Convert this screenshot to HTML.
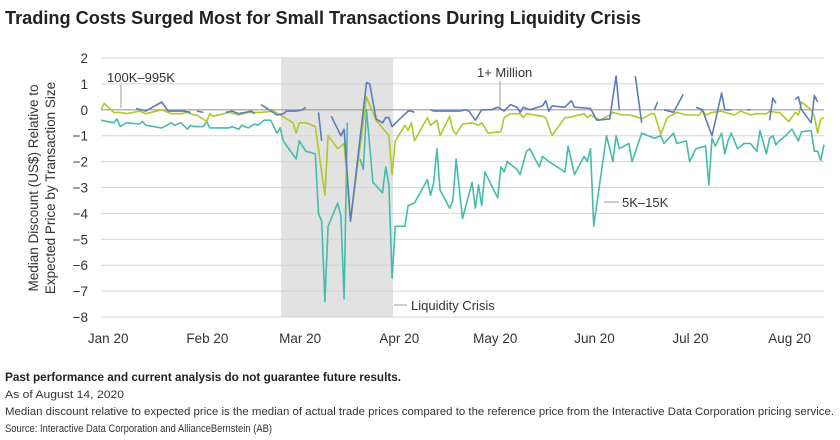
<!DOCTYPE html>
<html><head><meta charset="utf-8"><style>
body{margin:0;background:#fff;}
svg{display:block;font-family:"Liberation Sans",sans-serif;}
</style></head><body>
<svg id="chart" width="840" height="440" viewBox="0 0 840 440">
<text x="5" y="24" font-size="18" font-weight="bold" fill="#222" textLength="636" lengthAdjust="spacingAndGlyphs">Trading Costs Surged Most for Small Transactions During Liquidity Crisis</text>
<g id="shade"></g>
<g id="grid"></g>
<g id="yticks"></g>
<g id="xticks"></g>
<g id="series"></g>
<text transform="translate(38,188) rotate(-90)" text-anchor="middle" font-size="13.5" fill="#333"><tspan x="0" dy="0">Median Discount (US$) Relative to</tspan><tspan x="0" dy="17">Expected Price by Transaction Size</tspan></text>
<g>
<text x="107" y="82" font-size="13" fill="#333">100K–995K</text>
<line x1="121" y1="85" x2="121" y2="108" stroke="#999" stroke-width="1"/></g>
<g>
<text x="477" y="77" font-size="13" fill="#333">1+ Million</text>
<line x1="500" y1="81" x2="500" y2="108" stroke="#999" stroke-width="1"/></g>
<g>
<text x="622" y="207" font-size="13" fill="#333">5K–15K</text>
<line x1="604" y1="202" x2="619" y2="202" stroke="#999" stroke-width="1"/></g>
<g>
<text x="411" y="310" font-size="13" fill="#333">Liquidity Crisis</text>
<line x1="394" y1="305" x2="407" y2="305" stroke="#999" stroke-width="1"/></g>
<text x="5" y="381" font-size="11.5" font-weight="bold" fill="#222" textLength="396" lengthAdjust="spacingAndGlyphs">Past performance and current analysis do not guarantee future results.</text>
<text x="5" y="398" font-size="11" fill="#333" textLength="119" lengthAdjust="spacingAndGlyphs">As of August 14, 2020</text>
<text x="5" y="415" font-size="11" fill="#333" textLength="829" lengthAdjust="spacingAndGlyphs">Median discount relative to expected price is the median of actual trade prices compared to the reference price from the Interactive Data Corporation pricing service.</text>
<text x="5" y="432" font-size="11" fill="#333" textLength="267" lengthAdjust="spacingAndGlyphs">Source: Interactive Data Corporation and AllianceBernstein (AB)</text>
</svg>
<script>
// x values are calendar days since Jan 1 2020; null y = gap
const yTicks=[2,1,0,-1,-2,-3,-4,-5,-6,-7,-8];
const monthLabels=["Jan 20","Feb 20","Mar 20","Apr 20","May 20","Jun 20","Jul 20","Aug 20"];
const monthDays=[0,31,60,91,121,152,182,213];
const crisisRange=[55.3,90.3];
const tealX=[-1,3,4,5,7,11,12,13,18,21,22,24,26,27,28,31,32,33,39,40,42,43,45,47,48,50,52,54,55,56,60,61,63,66,67,68,69,70,73,74,75,76,78,80,81,82,84,87,88,89,90,91,94,95,97,101,102,103,104,105,108,109,110,112,115,116,117,118,119,123,124,125,126,129,130,132,133,136,137,139,144,145,147,150,151,152,153,157,159,160,161,164,165,168,172,174,175,178,179,182,183,185,188,189,190,191,193,194,195,196,198,200,202,204,205,207,208,209,210,211,213,215,217,218,221,222,223,224,225];
const tealY=[-0.4,-0.5,-0.35,-0.65,-0.5,-0.55,-0.45,-0.6,-0.7,-0.5,-0.6,-0.5,-0.75,-0.6,-0.65,-0.65,-0.45,-0.7,-0.7,-0.65,-0.75,-0.6,-0.7,-0.55,-0.6,-0.4,-0.4,-0.9,-0.7,-1.2,-1.9,-1.2,-1.6,-1.7,-4.0,-4.3,-7.4,-4.5,-3.6,-4.1,-7.3,-0.5,null,-1.9,-2.3,0.0,-2.8,-3.2,-2.2,-2.9,-6.5,-4.5,-4.5,-3.7,-3.6,-2.7,-3.3,-2.8,-1.5,-3.1,-3.8,-3.5,-1.9,-4.2,-2.8,-3.8,-2.9,-3.7,-2.4,-3.4,-2.2,-2.4,-2.0,-2.3,-2.5,-1.6,-1.5,-2.2,-1.8,-2.0,-2.4,-1.4,-2.5,-1.8,-2.0,-1.5,-4.5,-1.0,-2.0,-1.0,-1.5,-1.3,-2.0,-0.9,-1.1,-1.0,-1.3,-0.9,-1.3,-1.2,-2.0,-1.5,-1.4,-2.9,-1.1,-1.4,-0.9,-1.7,-1.2,-0.9,-1.5,-1.3,-1.3,-1.6,-0.8,-1.7,-1.1,-1.0,-1.35,-1.2,-1.0,-0.75,-1.2,-0.85,-0.8,-1.6,-1.6,-1.95,-1.35];
const greenX=[-1,0,3,5,7,11,13,18,21,24,26,28,29,32,33,34,39,42,45,49,53,55,59,60,61,63,66,69,70,73,75,77,82,85,87,89,90,91,94,95,96,97,101,102,104,105,108,109,110,112,115,117,118,120,124,125,127,130,131,132,137,138,140,144,145,150,151,152,155,158,159,162,164,166,168,171,172,174,176,179,182,186,187,188,190,193,194,197,199,202,204,207,208,210,211,214,216,217,218,221,222,223,224,225];
const greenY=[0,0.25,-0.1,-0.1,-0.15,-0.05,-0.15,0.0,-0.15,-0.15,-0.1,-0.2,-0.2,-0.45,-0.15,-0.25,-0.1,-0.2,-0.1,-0.1,-0.05,-0.2,-0.5,-0.9,-0.5,-0.5,-0.65,-3.3,-1.0,-1.5,-1.3,-4.3,0.5,-0.4,-0.7,-1.0,-2.5,-1.2,-0.6,-0.8,-0.5,-1.2,-0.3,-0.6,-0.4,-1.0,-0.25,-0.8,-0.95,-0.55,-0.5,-0.6,-0.5,-0.9,-0.85,-0.3,-0.15,-0.15,-0.3,-0.15,-0.25,-0.3,-1.0,-0.3,-0.3,-0.15,-0.3,-0.2,-0.4,-0.2,-0.1,-0.2,-0.2,-0.25,-0.35,-0.15,-0.15,-0.95,-0.3,-0.1,-0.2,-0.2,0.0,-0.2,-0.1,-0.05,-0.1,-0.2,-0.05,-0.2,-0.15,-0.15,-0.05,-0.1,-0.1,-0.45,-0.1,-0.2,0.3,0.0,-0.25,-0.9,-0.35,-0.3];
const blueX=[10,13,18,20,21,25,27,28,29,31,34,38,40,42,46,47,48,49,54,56,57,60,62,63,65,67,68,69,71,74,75,77,82,83,85,87,88,89,90,92,95,96,97,99,102,103,105,108,111,113,114,116,118,121,123,125,127,129,130,131,133,137,138,139,140,144,146,147,152,154,158,160,161,163,166,168,170,172,173,174,175,178,181,183,185,187,190,193,194,196,198,201,202,205,208,209,210,213,216,217,218,221,222,223];
const blueY=[0.05,-0.05,0.3,-0.05,-0.05,-0.05,-0.1,null,-0.05,-0.1,null,-0.1,-0.05,-0.15,-0.05,-0.15,null,0.2,-0.2,-0.15,-0.05,-0.05,0.0,0.1,null,-0.1,-1.2,null,-0.25,-1.0,-0.75,-4.3,1.05,1.0,-0.35,-0.5,-0.3,-0.3,-0.65,-0.4,-0.05,-0.05,-0.1,null,0.0,-0.05,-0.05,-0.05,-0.05,0.0,-0.05,-0.4,0.0,0.0,0.1,-0.05,0.2,0.1,-0.1,0.1,0.0,0.15,0.35,-0.05,0.15,0.1,0.35,0.1,0.05,-0.4,-0.35,1.3,0.0,null,1.3,-0.5,null,0.0,0.3,null,0.0,-0.1,0.6,null,0.1,0.0,-1.0,0.65,0.0,0.0,null,0.0,0.0,null,-0.4,0.45,0.25,null,0.4,0.5,0.0,-0.5,0.55,0.3];

const NS="http://www.w3.org/2000/svg";
const X0=101,X1=824,D0=-1,D1=225,Y0=58,Y1=317,V0=2,V1=-8;
function xs(d){return X0+(d-D0)*(X1-X0)/(D1-D0);}
function ys(v){return Y0+(v-V0)*(Y1-Y0)/(V1-V0);}
function mk(tag,attrs,parent){const e=document.createElementNS(NS,tag);for(const k in attrs)e.setAttribute(k,attrs[k]);parent.appendChild(e);return e;}

const shade=document.getElementById('shade');
const r=mk('rect',{x:xs(crisisRange[0]),y:Y0,width:xs(crisisRange[1])-xs(crisisRange[0]),height:Y1-Y0,fill:'#e2e2e2'},shade);



const grid=document.getElementById('grid'),yt=document.getElementById('yticks');
yTicks.forEach(v=>{
  const l=mk('line',{x1:X0,x2:X1,y1:ys(v),y2:ys(v),stroke:v===0?'#9a9a9a':'#d4d4d4','stroke-width':v===0?1.2:1},grid);
  
  
  const t=mk('text',{x:88,y:ys(v)+5,'text-anchor':'end','font-size':13.5,fill:'#333'},yt);
  t.textContent=String(v).replace('-','−');
  
  
});
const xt=document.getElementById('xticks');
monthLabels.forEach((m,i)=>{
  const t=mk('text',{x:xs(monthDays[i])+4,y:343,'text-anchor':'middle','font-size':13.5,fill:'#333'},xt);
  t.textContent=m;
  
  
});
function draw(xa,ya,color,name){
  let d='',pen=false;
  for(let i=0;i<xa.length;i++){
    if(ya[i]===null){pen=false;continue;}
    d+=(pen?'L':'M')+xs(xa[i]).toFixed(1)+','+ys(ya[i]).toFixed(1);pen=true;
  }
  const p=mk('path',{d:d,fill:'none',stroke:color,'stroke-width':1.6,'stroke-linejoin':'round'},document.getElementById('series'));
  
  
}
draw(tealX,tealY,'#45bcaa','series-5k-15k');
draw(greenX,greenY,'#b4c62a','series-100k-995k');
draw(blueX,blueY,'#5b7dbd','series-1-million');
</script>
</body></html>
